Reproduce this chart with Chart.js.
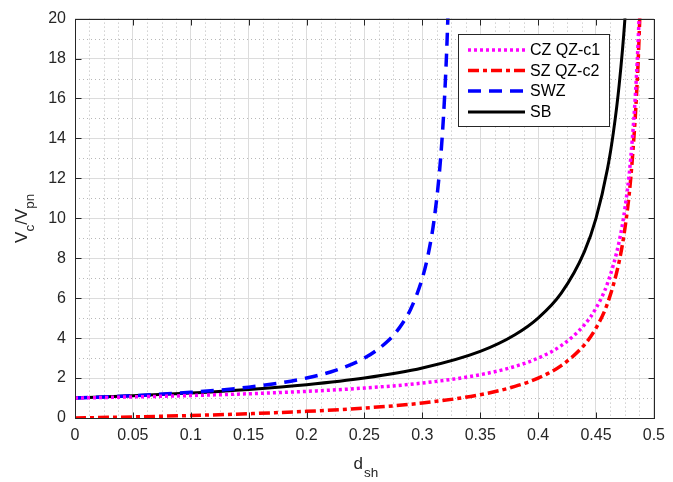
<!DOCTYPE html>
<html>
<head>
<meta charset="utf-8">
<script src="https://cdn.jsdelivr.net/npm/chart.js@4/dist/chart.umd.min.js"></script>
<style>
  html, body { margin: 0; padding: 0; background: #fff; }
  #wrap { width: 673px; height: 482px; }
</style>
</head>
<body>
<div id="wrap"><canvas id="vcChart" width="673" height="482"></canvas></div>
<script>
// values
var czX = [0, 0.05, 0.1, 0.15, 0.2, 0.25, 0.3, 0.35, 0.38, 0.4, 0.42, 0.44, 0.45, 0.46, 0.47, 0.475, 0.48, 0.485, 0.4875, 0.49];
var czY = [1, 1.056, 1.125, 1.214, 1.333, 1.5, 1.75, 2.167, 2.583, 3, 3.625, 4.667, 5.5, 6.75, 8.833, 10.5, 13, 17.17, 20.5, 25.5];

var szX = [0, 0.05, 0.1, 0.15, 0.2, 0.25, 0.3, 0.35, 0.38, 0.4, 0.42, 0.44, 0.45, 0.46, 0.47, 0.475, 0.48, 0.485, 0.4875, 0.49];
var szY = [0, 0.056, 0.125, 0.214, 0.333, 0.5, 0.75, 1.167, 1.583, 2, 2.625, 3.667, 4.5, 5.75, 7.833, 9.5, 12, 16.17, 19.5, 24.5];

var swzX = [0, 0.05, 0.1, 0.15, 0.2, 0.225, 0.25, 0.27, 0.28, 0.29, 0.3, 0.305, 0.31, 0.315, 0.318, 0.32, 0.322, 0.324];
var swzY = [1, 1.118, 1.286, 1.545, 2, 2.385, 3, 3.842, 4.5, 5.462, 7, 8.176, 9.857, 12.45, 14.83, 17, 19.94, 24.14];

var sbX = [0, 0.05, 0.1, 0.15, 0.2, 0.25, 0.3, 0.35, 0.38, 0.4, 0.42, 0.44, 0.45, 0.46, 0.465, 0.47, 0.475, 0.48];
var sbY = [1, 1.111, 1.25, 1.429, 1.667, 2, 2.5, 3.333, 4.167, 5, 6.25, 8.333, 10, 12.5, 14.29, 16.67, 20, 25];

var xTickLabels = ['0', '0.05', '0.1', '0.15', '0.2', '0.25', '0.3', '0.35', '0.4', '0.45', '0.5'];
var yTickLabels = ['0', '2', '4', '6', '8', '10', '12', '14', '16', '18', '20'];

var FONT = '"Liberation Sans", Arial, Helvetica, sans-serif';
var AXIS_COLOR = '#262626';

function pts(xs, ys) {
    return xs.map(function (x, i) { return { x: x, y: ys[i] }; });
}

// minor grid, box, inward ticks, axis titles with subscripts, legend
var matlabLook = {
    id: 'matlabLook',
    beforeDatasetsDraw: function (chart) {
        var ctx = chart.ctx, a = chart.chartArea;
        var xs = chart.scales.x, ys = chart.scales.y;
        ctx.save();
        ctx.strokeStyle = '#b8b8b8';
        ctx.lineWidth = 1;
        ctx.setLineDash([1, 3]);
        for (var v = 0; v <= 0.5 + 1e-9; v += 0.0125) {
            if (Math.abs(v / 0.05 - Math.round(v / 0.05)) < 1e-6) continue;
            var px = Math.round(xs.getPixelForValue(v)) + 0.5;
            ctx.beginPath(); ctx.moveTo(px, a.top); ctx.lineTo(px, a.bottom); ctx.stroke();
        }
        for (var w = 1; w < 20; w += 2) {
            var py = Math.round(ys.getPixelForValue(w)) + 0.5;
            ctx.beginPath(); ctx.moveTo(a.left, py); ctx.lineTo(a.right, py); ctx.stroke();
        }
        ctx.restore();
    },
    afterDatasetsDraw: function (chart) {
        var ctx = chart.ctx, a = chart.chartArea;
        var xs = chart.scales.x, ys = chart.scales.y;
        var L = Math.round(a.left) + 0.5, R = Math.round(a.right) + 0.5;
        var T = Math.round(a.top) + 0.5, B = Math.round(a.bottom) + 0.5;
        ctx.save();
        ctx.strokeStyle = AXIS_COLOR;
        ctx.lineWidth = 1;
        ctx.setLineDash([]);
        ctx.strokeRect(L, T, R - L, B - T);
        var tl = 6;
        xs.ticks.forEach(function (t) {
            var px = Math.round(xs.getPixelForValue(t.value)) + 0.5;
            ctx.beginPath();
            ctx.moveTo(px, B); ctx.lineTo(px, B - tl);
            ctx.moveTo(px, T); ctx.lineTo(px, T + tl);
            ctx.stroke();
        });
        ys.ticks.forEach(function (t) {
            var py = Math.round(ys.getPixelForValue(t.value)) + 0.5;
            ctx.beginPath();
            ctx.moveTo(L, py); ctx.lineTo(L + tl, py);
            ctx.moveTo(R, py); ctx.lineTo(R - tl, py);
            ctx.stroke();
        });
        ctx.restore();
    },
    afterDraw: function (chart) {
        var ctx = chart.ctx, a = chart.chartArea;
        ctx.save();
        ctx.fillStyle = AXIS_COLOR;
        ctx.textBaseline = 'alphabetic';
        ctx.textAlign = 'left';

        // x title: d_sh
        var big = '17px ' + FONT, small = '13.5px ' + FONT;
        ctx.font = big;
        var wD = ctx.measureText('d').width;
        ctx.font = small;
        var wSh = ctx.measureText('sh').width;
        var x0 = (a.left + a.right) / 2 - (wD + wSh) / 2 + 1;
        ctx.font = big; ctx.fillText('d', x0, 469);
        ctx.font = small; ctx.fillText('sh', x0 + wD + 1, 477);

        // y title: V_c/V_pn
        ctx.translate(27, (a.top + a.bottom) / 2);
        ctx.rotate(-Math.PI / 2);
        var parts = [['V', big, 0], ['c', small, 7], ['/V', big, 0], ['pn', small, 7]];
        var total = 0;
        parts.forEach(function (p) { ctx.font = p[1]; total += ctx.measureText(p[0]).width; });
        var cx = -total / 2;
        parts.forEach(function (p) {
            ctx.font = p[1];
            ctx.fillText(p[0], cx, p[2]);
            cx += ctx.measureText(p[0]).width;
        });
        ctx.restore();

        // legend
        ctx.save();
        var bx = 458.5, by = 34.5, bw = 151, bh = 92;
        ctx.fillStyle = '#ffffff';
        ctx.fillRect(bx, by, bw, bh);
        ctx.strokeStyle = AXIS_COLOR;
        ctx.lineWidth = 1;
        ctx.strokeRect(bx, by, bw, bh);
        var rowY = [50, 70.5, 91, 112];
        ctx.font = '16px ' + FONT;
        ctx.textBaseline = 'middle';
        chart.data.datasets.forEach(function (ds, i) {
            var y = rowY[i];
            ctx.strokeStyle = ds.borderColor;
            ctx.lineWidth = ds.borderWidth;
            ctx.setLineDash(ds.borderDash || []);
            ctx.beginPath(); ctx.moveTo(468, y); ctx.lineTo(525, y); ctx.stroke();
            ctx.setLineDash([]);
            ctx.fillStyle = '#000000';
            ctx.fillText(ds.label, 530, y + 1);
        });
        ctx.restore();
    }
};

var ctx = document.getElementById('vcChart').getContext('2d');
var vcChart = new Chart(ctx, {
    type: 'line',
    data: {
        datasets: [
            { label: 'CZ QZ-c1', data: pts(czX, czY), borderColor: '#ff00ff', borderWidth: 3.5, borderDash: [3, 3] },
            { label: 'SZ QZ-c2', data: pts(szX, szY), borderColor: '#ff0000', borderWidth: 3.5, borderDash: [11, 4, 4, 4] },
            { label: 'SWZ', data: pts(swzX, swzY), borderColor: '#0000ff', borderWidth: 3.5, borderDash: [13, 8] },
            { label: 'SB', data: pts(sbX, sbY), borderColor: '#000000', borderWidth: 3 }
        ]
    },
    options: {
        responsive: false,
        animation: false,
        devicePixelRatio: 1,
        layout: { padding: { top: 15, right: 15, left: 0, bottom: 0 } },
        elements: {
            point: { radius: 0, hoverRadius: 0 },
            line: { cubicInterpolationMode: 'monotone', borderCapStyle: 'butt', fill: false }
        },
        datasets: { line: { clip: 0 } },
        plugins: { legend: { display: false }, tooltip: { enabled: false } },
        scales: {
            x: {
                type: 'linear',
                min: 0, max: 0.5,
                afterFit: function (s) { s.height = 64; },
                ticks: {
                    stepSize: 0.05,
                    padding: 8,
                    color: AXIS_COLOR,
                    font: { family: FONT, size: 16 },
                    maxRotation: 0,
                    autoSkip: false,
                    callback: function (v, i) { return xTickLabels[i]; }
                },
                grid: { color: '#dcdcdc', lineWidth: 1, drawTicks: false },
                border: { display: false }
            },
            y: {
                min: 0, max: 20,
                afterFit: function (s) { s.width = 75; },
                ticks: {
                    stepSize: 2,
                    padding: 9,
                    color: AXIS_COLOR,
                    font: { family: FONT, size: 16 },
                    autoSkip: false,
                    callback: function (v, i) { return yTickLabels[i]; }
                },
                grid: { color: '#dcdcdc', lineWidth: 1, drawTicks: false },
                border: { display: false }
            }
        }
    },
    plugins: [matlabLook]
});
</script>
</body>
</html>
